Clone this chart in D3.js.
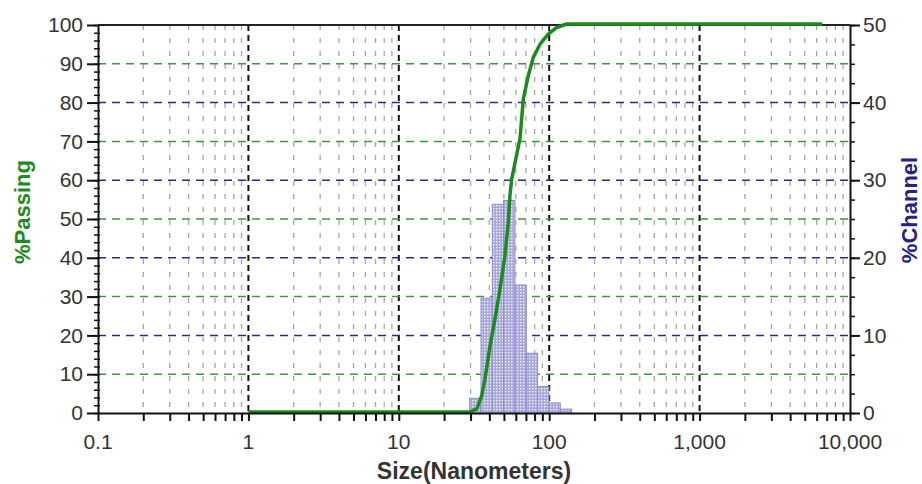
<!DOCTYPE html>
<html>
<head>
<meta charset="UTF-8" />
<style>
    body { margin: 0; background: #fff; }
    text { font-family: "Liberation Sans", Arial, sans-serif; }
</style>
<script src="https://d3js.org/d3.v7.min.js"></script>
</head>
<body>
<div id="chart"></div>
<script>
// histogram channel edges (nm) and % in each channel
var binEdges = [29.60, 35.20, 41.86, 49.78, 59.20, 70.40, 83.72, 99.56, 118.4, 140.8];
var channelPct = [1.9, 14.8, 26.9, 27.4, 16.5, 7.7, 3.4, 1.3, 0.5];

// cumulative % passing curve
var passSize = [1, 29.6, 33.0, 35.6, 37.4, 40.4, 43.6, 47.1, 50.8, 53.5, 54.8, 56.3, 64.0, 67.3, 72.6, 78.4, 86.9, 98.6, 112.2, 130.6, 6540];
var passPct  = [0, 0, 0.8, 4.2, 8.5, 17, 24, 31.7, 40.3, 48.9, 55.7, 60, 70.6, 80.7, 86.7, 91.4, 94.8, 97.4, 99.1, 100, 100];

var xTicks = [0.1, 1, 10, 100, 1000, 10000];
var leftTicks = [0, 10, 20, 30, 40, 50, 60, 70, 80, 90, 100];
var rightTicks = [0, 10, 20, 30, 40, 50];

var width = 922, height = 484;
var L = 98, R = 850, T = 25, B = 413;

var svg = d3.select("#chart").append("svg")
    .attr("width", width)
    .attr("height", height);

var x = d3.scaleLog().domain([0.1, 10000]).range([L, R]);
var yL = d3.scaleLinear().domain([0, 100]).range([B, T]);
var yR = d3.scaleLinear().domain([0, 50]).range([B, T]);

// hatch pattern for the bars
var pat = svg.append("defs").append("pattern")
    .attr("id", "hatch")
    .attr("width", 3).attr("height", 3)
    .attr("patternUnits", "userSpaceOnUse");
pat.append("rect").attr("width", 3).attr("height", 3).attr("fill", "#a8a8dc");
pat.append("rect").attr("x", 1).attr("y", 1).attr("width", 1.4).attr("height", 1.4).attr("fill", "#f2f2fc");

// minor vertical grid 2..9 in each decade
var minorX = [];
for (var d = 0.1; d < 10000; d *= 10) {
    for (var k = 2; k <= 9; k++) minorX.push(d * k);
}
svg.selectAll(".vminor").data(minorX).enter().append("line")
    .attr("x1", d => x(d)).attr("x2", d => x(d))
    .attr("y1", T).attr("y2", B)
    .attr("stroke", "#a6a6a6").attr("stroke-width", 1.3)
    .attr("stroke-dasharray", "5,8");

// major vertical grid
svg.selectAll(".vmajor").data(xTicks.slice(1, -1)).enter().append("line")
    .attr("x1", d => x(d)).attr("x2", d => x(d))
    .attr("y1", T).attr("y2", B)
    .attr("stroke", "#111").attr("stroke-width", 2)
    .attr("stroke-dasharray", "6,4");

// horizontal grid: navy where the right axis has a tick, green otherwise
var navyY = rightTicks.slice(1, -1).map(d => yR(d));
var greenY = leftTicks.slice(1, -1).map(d => yL(d)).filter(v => navyY.every(n => Math.abs(n - v) > 0.5));

svg.selectAll(".hgreen").data(greenY).enter().append("line")
    .attr("x1", L).attr("x2", R)
    .attr("y1", d => d).attr("y2", d => d)
    .attr("stroke", "#3f973f").attr("stroke-width", 1.5)
    .attr("stroke-dasharray", "8,6");

svg.selectAll(".hnavy").data(navyY).enter().append("line")
    .attr("x1", L).attr("x2", R)
    .attr("y1", d => d).attr("y2", d => d)
    .attr("stroke", "#2b2b83").attr("stroke-width", 1.5)
    .attr("stroke-dasharray", "8,6");

// histogram bars
svg.selectAll(".bar").data(channelPct).enter().append("rect")
    .attr("x", (d, i) => x(binEdges[i]))
    .attr("width", (d, i) => x(binEdges[i + 1]) - x(binEdges[i]))
    .attr("y", d => yR(d))
    .attr("height", d => B - yR(d))
    .attr("fill", "url(#hatch)")
    .attr("stroke", "#8c8cc8").attr("stroke-width", 1);

// frame: top line
svg.append("line").attr("x1", L).attr("x2", R).attr("y1", T).attr("y2", T)
    .attr("stroke", "#222").attr("stroke-width", 2);

// passing curve
var line = d3.line()
    .x((d, i) => x(passSize[i]))
    .y((d, i) => yL(d) - 1);
svg.append("path").datum(passPct)
    .attr("d", line)
    .attr("fill", "none")
    .attr("stroke", "#1c8a1c").attr("stroke-width", 3.5)
    .attr("stroke-linejoin", "round");

// axes
var fmt = d => d < 1 ? "0.1" : d3.format(",")(d);
var xAxisTicks = [];
for (var d2 = 0.1; d2 < 10000; d2 *= 10) {
    for (var k2 = 1; k2 <= 9; k2++) xAxisTicks.push(d2 * k2);
}
xAxisTicks.push(10000);
svg.append("g").attr("transform", "translate(0," + B + ")")
    .call(d3.axisBottom(x).tickValues(xAxisTicks).tickFormat("").tickSize(8).tickSizeOuter(0))
    .call(g => g.select(".domain").attr("stroke-width", 2).attr("stroke", "#111"))
    .call(g => g.selectAll(".tick line").attr("stroke-width", 2).attr("stroke", "#111"));

svg.selectAll(".xlab").data(xTicks).enter().append("text")
    .attr("x", d => x(d)).attr("y", 449)
    .attr("text-anchor", "middle")
    .attr("font-size", 21).attr("fill", "#333")
    .text(fmt);

// left axis
var leftMinor = d3.range(0, 101, 2);
svg.append("g").attr("transform", "translate(" + L + ",0)")
    .call(d3.axisLeft(yL).tickValues(leftMinor).tickFormat("").tickSize(4).tickSizeOuter(0))
    .call(g => g.select(".domain").attr("stroke-width", 2).attr("stroke", "#111"))
    .call(g => g.selectAll(".tick line").attr("stroke-width", 1.5).attr("stroke", "#111").attr("x2", -4).attr("x1", 2));
svg.append("g").attr("transform", "translate(" + L + ",0)")
    .call(d3.axisLeft(yL).tickValues(leftTicks).tickSize(11).tickPadding(4).tickSizeOuter(0))
    .call(g => g.select(".domain").remove())
    .call(g => g.selectAll(".tick line").attr("stroke-width", 2).attr("stroke", "#111").attr("x1", 1))
    .call(g => g.selectAll(".tick text").attr("font-size", 21).attr("fill", "#333")
        .attr("font-family", "Liberation Sans, Arial, sans-serif"));

// right axis
var rightMinor = d3.range(0, 50.1, 2.5);
svg.append("g").attr("transform", "translate(" + R + ",0)")
    .call(d3.axisRight(yR).tickValues(rightMinor).tickFormat("").tickSize(5).tickSizeOuter(0))
    .call(g => g.select(".domain").attr("stroke-width", 2).attr("stroke", "#111"))
    .call(g => g.selectAll(".tick line").attr("stroke-width", 1.5).attr("stroke", "#111"));
svg.append("g").attr("transform", "translate(" + R + ",0)")
    .call(d3.axisRight(yR).tickValues(rightTicks).tickSize(10).tickPadding(3).tickSizeOuter(0))
    .call(g => g.select(".domain").remove())
    .call(g => g.selectAll(".tick line").attr("stroke-width", 2).attr("stroke", "#111"))
    .call(g => g.selectAll(".tick text").attr("font-size", 21).attr("fill", "#333")
        .attr("font-family", "Liberation Sans, Arial, sans-serif"));

// axis titles
svg.append("text")
    .attr("x", (L + R) / 2).attr("y", 479)
    .attr("text-anchor", "middle")
    .attr("font-size", 23).attr("font-weight", "bold").attr("fill", "#333")
    .text("Size(Nanometers)");

svg.append("text")
    .attr("transform", "translate(30,212) rotate(-90)")
    .attr("text-anchor", "middle")
    .attr("font-size", 22).attr("font-weight", "bold").attr("fill", "#1f8a1f")
    .text("%Passing");

svg.append("text")
    .attr("transform", "translate(917,210) rotate(-90)")
    .attr("text-anchor", "middle")
    .attr("font-size", 22).attr("font-weight", "bold").attr("fill", "#22228a")
    .text("%Channel");
</script>
</body>
</html>
